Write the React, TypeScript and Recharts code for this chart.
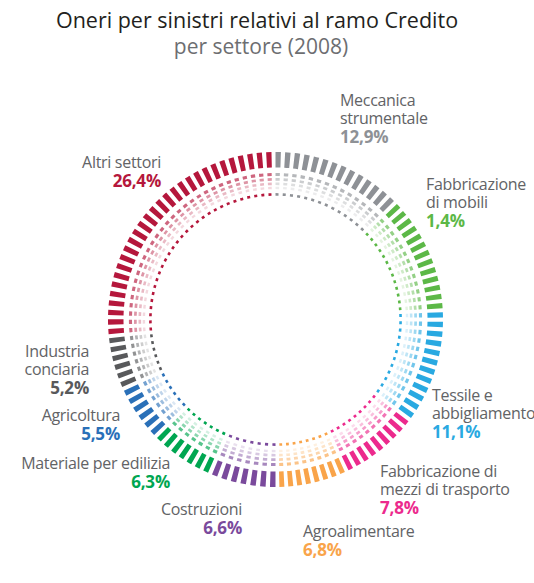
import React from 'react';
import { PieChart, Pie, Cell } from 'recharts';

document.body.style.margin = '0';

// settori, in senso orario da ore 12
const sectors = [
  'Meccanica strumentale',
  'Fabbricazione di mobili',
  'Tessile e abbigliamento',
  'Fabbricazione di mezzi di trasporto',
  'Agroalimentare',
  'Costruzioni',
  'Materiale per edilizia',
  'Agricoltura',
  'Industria conciaria',
  'Altri settori',
];
const shares = [12.9, 11.4, 11.1, 7.8, 6.8, 6.6, 6.3, 5.5, 5.2, 26.4];
const shareLabels = ['12,9%', '1,4%', '11,1%', '7,8%', '6,8%', '6,6%', '6,3%', '5,5%', '5,2%', '26,4%'];
const labelLines = [
  ['Meccanica', 'strumentale'],
  ['Fabbricazione', 'di mobili'],
  ['Tessile e', 'abbigliamento'],
  ['Fabbricazione di', 'mezzi di trasporto'],
  ['Agroalimentare'],
  ['Costruzioni'],
  ['Materiale per edilizia'],
  ['Agricoltura'],
  ['Industria', 'conciaria'],
  ['Altri settori'],
];
const colors = [
  '#8e9196', '#5cb847', '#29a9e1', '#ec2a8d', '#f9a44a',
  '#7a4a9c', '#00a651', '#2a70b8', '#58595b', '#b5173c',
];

const data = sectors.map((name, i) => ({ name, value: shares[i] }));

// label anchor points (first baseline)
const labelPos = [
  { x: 340, y: 106, anchor: 'start' },
  { x: 426, y: 190, anchor: 'start' },
  { x: 432, y: 401, anchor: 'start' },
  { x: 380, y: 477, anchor: 'start' },
  { x: 303, y: 537, anchor: 'start' },
  { x: 242, y: 515, anchor: 'end' },
  { x: 170, y: 469, anchor: 'end' },
  { x: 120, y: 421, anchor: 'end' },
  { x: 89, y: 357, anchor: 'end' },
  { x: 161, y: 168, anchor: 'end' },
];

const CX = 270.5;
const CY = 314.5;
const RAD = Math.PI / 180;
const PITCH = 3.25; // degrees between ticks

const RINGS = [
  { inner: 152, outer: 167.5, opacity: 1, duty: 0.56 },
  { inner: 143.5, outer: 146.6, opacity: 0.66, duty: 0.52 },
  { inner: 138.8, outer: 141.5, opacity: 0.46, duty: 0.52 },
  { inner: 134.4, outer: 137, opacity: 0.3, duty: 0.5 },
  { inner: 130.4, outer: 132.8, opacity: 0.17, duty: 0.48 },
  { inner: 123.8, outer: 126.4, opacity: 1, duty: 0.42 },
];

const polar = (cx: number, cy: number, r: number, a: number) => [
  cx + r * Math.cos(-a * RAD),
  cy + r * Math.sin(-a * RAD),
];

const dashedSector = (opacity: number, duty: number) => (props: any) => {
  const { cx, cy, innerRadius, outerRadius, startAngle, endAngle, fill } = props;
  const r = (innerRadius + outerRadius) / 2;
  const delta = Math.abs(startAngle - endAngle);
  const n = Math.max(1, Math.round(delta / PITCH));
  const period = (r * delta * RAD) / n;
  const dash = period * duty;
  const [x0, y0] = polar(cx, cy, r, startAngle);
  const [x1, y1] = polar(cx, cy, r, endAngle);
  const sweep = startAngle > endAngle ? 1 : 0;
  const large = delta > 180 ? 1 : 0;
  return (
    <path
      d={`M${x0},${y0} A${r},${r} 0 ${large} ${sweep} ${x1},${y1}`}
      fill="none"
      stroke={fill}
      strokeOpacity={opacity}
      strokeWidth={outerRadius - innerRadius}
      strokeDasharray={`${dash} ${period - dash}`}
    />
  );
};

const FONT = '"Open Sans", "Noto Sans", sans-serif';

export default function App() {
  return (
    <div style={{ position: 'relative', width: 534, height: 583, background: '#fff', fontFamily: FONT }}>
      <PieChart width={534} height={583}>
        {RINGS.map((ring, k) => {
          const shape = dashedSector(ring.opacity, ring.duty);
          return (
            <Pie
              key={k}
              data={data}
              dataKey="value"
              nameKey="name"
              cx={CX}
              cy={CY}
              innerRadius={ring.inner}
              outerRadius={ring.outer}
              startAngle={90}
              endAngle={-270}
              stroke="none"
              isAnimationActive={false}
              shape={shape}
              activeShape={shape}
              inactiveShape={shape}
            >
              {data.map((d, i) => (
                <Cell key={d.name} fill={colors[i]} />
              ))}
            </Pie>
          );
        })}
      </PieChart>
      <svg width={534} height={583} style={{ position: 'absolute', left: 0, top: 0, pointerEvents: 'none' }}>
        <text x={257} y={28} textAnchor="middle" fontSize={21.5} fill="#231f20" fontFamily={FONT}>
          Oneri per sinistri relativi al ramo Credito
        </text>
        <text x={261} y={54} textAnchor="middle" fontSize={21} fill="#6d6e71" fontFamily={FONT}>
          per settore (2008)
        </text>
        {labelLines.map((lines, i) => {
          const p = labelPos[i];
          return (
            <text key={sectors[i]} x={p.x} y={p.y} fontFamily={FONT} textAnchor={p.anchor} fontSize={16} letterSpacing={-0.3} fill="#626366">
              {lines.map((line, j) => (
                <tspan key={j} x={p.x} dy={j === 0 ? 0 : 18}>
                  {line}
                </tspan>
              ))}
              <tspan x={p.x} dy={19} fontSize={17} fontWeight={700} letterSpacing={-0.2} fill={colors[i]}>
                {shareLabels[i]}
              </tspan>
            </text>
          );
        })}
      </svg>
    </div>
  );
}
